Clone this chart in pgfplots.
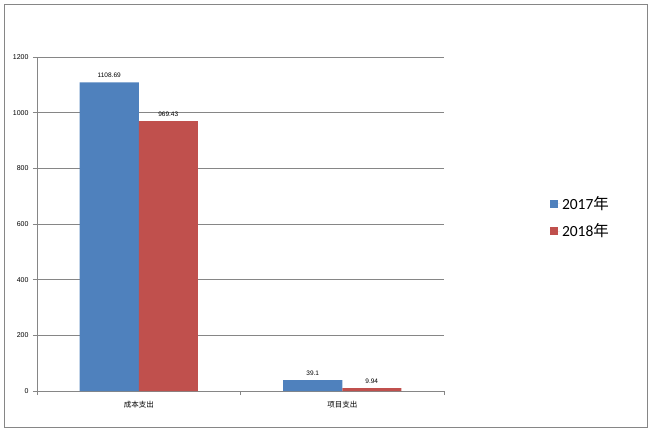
\documentclass[border=0pt]{standalone}
\usepackage{pgfplots}
\pgfplotsset{compat=1.18}
\usepackage{fontspec}
\setmainfont{Liberation Sans}
\newfontfamily\cjk{Noto Sans CJK SC}
\newfontfamily\carlito{Carlito}
\definecolor{b1}{HTML}{4F81BD}
\definecolor{r1}{HTML}{C0504D}
\definecolor{gr}{HTML}{868686}
\begin{document}
\begin{tikzpicture}[x=1pt,y=1pt]
\path (-37,-40) rectangle (615,391);
\draw[gr, line width=0.8pt] (-33,-36) rectangle (610,387);
\begin{axis}[
  at={(0,0)}, anchor=south west,
  scale only axis, width=407pt, height=334pt,
  ymin=0, ymax=1200, ytick={0,200,...,1200},
  /pgf/number format/assume math mode=true,
  /pgf/number format/1000 sep={},
  xmin=-0.5, xmax=1.5, xtick={0,1},
  xticklabels={{\cjk 成本支出},{\cjk 项目支出}},
  ymajorgrids, grid style={gr, line width=0.6pt},
  axis lines*=left, axis line style={gr, line width=0.8pt},
  tick align=outside, major tick length=4pt,
  ytick style={gr, line width=0.6pt},
  x tick style={draw=none},
  extra x ticks={-0.5,0.5,1.5}, extra x tick labels={},
  extra x tick style={grid=none, x tick style={draw=gr, line width=0.6pt}},
  tick label style={font=\fontsize{7}{8}\selectfont},
  xticklabel style={font=\fontsize{7.5}{9}\selectfont, yshift=-3pt},
  yticklabel style={xshift=-1pt},
  ybar, bar width=0.29,
  nodes near coords, point meta=explicit symbolic,
  nodes near coords style={font=\fontsize{6.5}{7}\selectfont, black, yshift=1pt},
  legend style={at={(rel axis cs:1.26,0.52)}, anchor=west, draw=none,
    font=\carlito\fontsize{15.5}{18}\selectfont, row sep=9pt, inner sep=0pt},
  legend cell align=left,
  legend image code/.code={\fill[#1, draw=none] (0pt,-4pt) rectangle (8pt,4pt);\path (0pt,0pt) -- (10pt,0pt);},
]
\addplot[fill=b1, draw=none, bar shift=-0.145] coordinates {(0,1108.69) [1108.69] (1,39.1) [39.1]};
\addplot[fill=r1, draw=none, bar shift=0.145] coordinates {(0,969.43) [969.43] (1,9.94) [9.94]};
\legend{2017{\cjk 年}, 2018{\cjk 年}}
\end{axis}
\end{tikzpicture}
\end{document}
